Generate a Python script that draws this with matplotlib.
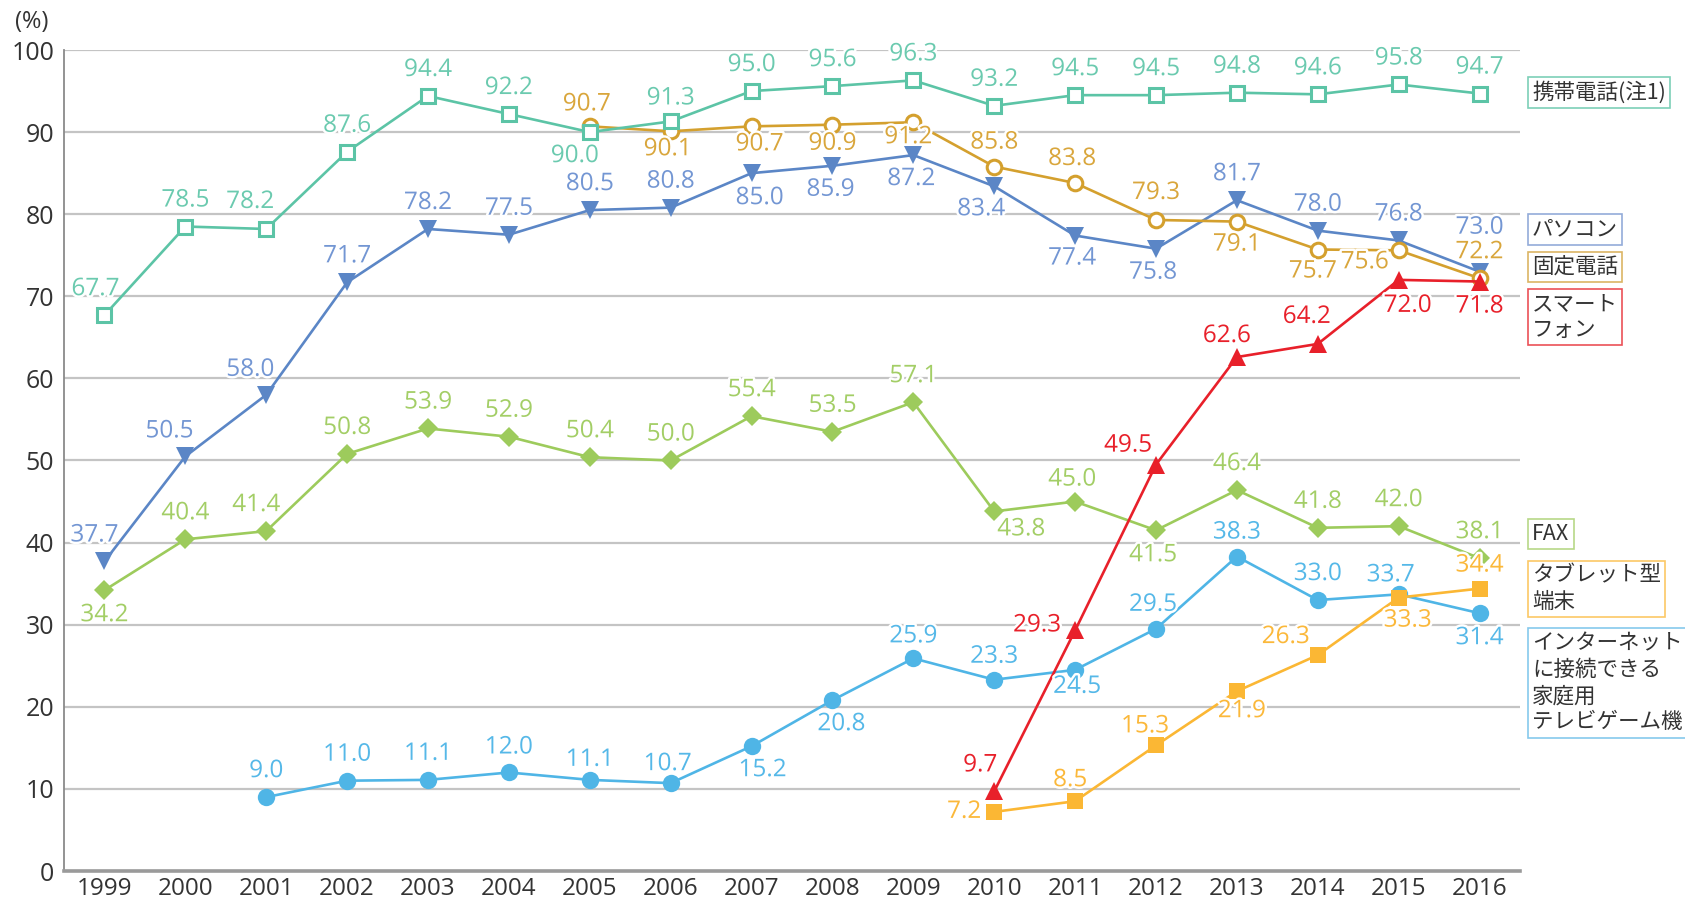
import matplotlib
matplotlib.use("Agg")
import matplotlib.pyplot as plt
import matplotlib.patheffects as pe

# ---------------- data ----------------
years = list(range(1999, 2017))
year_labels = [str(y) for y in years]

mobile = [67.7, 78.5, 78.2, 87.6, 94.4, 92.2, 90.0, 91.3, 95.0, 95.6, 96.3, 93.2, 94.5, 94.5, 94.8, 94.6, 95.8, 94.7]
mobile_years = years

pc = [37.7, 50.5, 58.0, 71.7, 78.2, 77.5, 80.5, 80.8, 85.0, 85.9, 87.2, 83.4, 77.4, 75.8, 81.7, 78.0, 76.8, 73.0]
pc_years = years

landline = [90.7, 90.1, 90.7, 90.9, 91.2, 85.8, 83.8, 79.3, 79.1, 75.7, 75.6, 72.2]
landline_years = list(range(2005, 2017))

smartphone = [9.7, 29.3, 49.5, 62.6, 64.2, 72.0, 71.8]
smartphone_years = list(range(2010, 2017))

fax = [34.2, 40.4, 41.4, 50.8, 53.9, 52.9, 50.4, 50.0, 55.4, 53.5, 57.1, 43.8, 45.0, 41.5, 46.4, 41.8, 42.0, 38.1]
fax_years = years

tablet = [7.2, 8.5, 15.3, 21.9, 26.3, 33.3, 34.4]
tablet_years = list(range(2010, 2017))

game = [9.0, 11.0, 11.1, 12.0, 11.1, 10.7, 15.2, 20.8, 25.9, 23.3, 24.5, 29.5, 38.3, 33.0, 33.7, 31.4]
game_years = list(range(2001, 2017))

y_ticks = list(range(0, 101, 10))

names = {
    "mobile": "携帯電話(注1)",
    "pc": "パソコン",
    "landline": "固定電話",
    "smartphone": "スマート\nフォン",
    "fax": "FAX",
    "tablet": "タブレット型\n端末",
    "game": "インターネット\nに接続できる\n家庭用\nテレビゲーム機",
}

# ---------------- label placement (pixel offsets) ----------------
U = (0, 26)
mobile_off = [(-9, 26), U, (-16, 27), U, U, U, (-15, -24), (0, 23), U, U, U, U, U, U, U, U, U, U]
pc_off = [(-10, 26), (-16, 25), (-16, 25), U, U, U, U, U, (8, -25), (-2, -24), (-2, -24), (-13, -23),
          (-3, -23), (-3, -24), U, U, U, (0, 44)]
landline_off = [(-3, 22), (-3, -18), (8, -18), (0, -19), (-5, -15), (0, 24), (-3, 24), (0, 27),
                (0, -23), (-5, -22), (-34, -12), (0, 26)]
smartphone_off = [(-14, 26), (-38, 5), (-28, 19), (-10, 21), (-11, 27), (9, -26), (0, -25)]
fax_off = [(0, -25), U, (-10, 26), U, U, U, U, U, U, U, U, (27, -18), (-3, 22), (-3, -25), U, U, U, U]
tablet_off = [(-30, 0), (-5, 21), (-11, 19), (5, -20), (-32, 18), (9, -23), (0, 23)]
game_off = [U, U, U, (0, 25), (0, 20), (-3, 19), (11, -24), (9, -24), (0, 22), (0, 23), (2, -17),
            (-3, 24), (0, 24), U, (-8, 19), (0, -25)]

# ---------------- styling ----------------
W, H = 1685, 905
NUM_FONT = ["Open Sans", "DejaVu Sans"]
JP_FONT = ["Noto Sans CJK JP", "DejaVu Sans"]
plt.rcParams["font.family"] = NUM_FONT

fig = plt.figure(figsize=(W / 100, H / 100), dpi=100)
ax = fig.add_axes([64 / W, 1 - 871 / H, (1520 - 64) / W, (871 - 50) / H])

ax.set_xlim(1998.5, 2016.5)
ax.set_ylim(0, 100)
ax.set_xticks(years)
ax.set_xticklabels(year_labels)
ax.set_yticks(y_ticks)
ax.tick_params(axis="both", length=0, labelsize=18, colors="#333333")
ax.tick_params(axis="y", pad=7)
ax.tick_params(axis="x", pad=4, labelsize=17.5)
ax.yaxis.grid(True, color="#c4c4c4", linewidth=1.6)
ax.set_axisbelow(True)
for s in ["top", "right"]:
    ax.spines[s].set_visible(False)
ax.spines["left"].set_color("#8a8a8a")
ax.spines["left"].set_linewidth(1.3)
ax.spines["bottom"].set_color("#9a9a9a")
ax.spines["bottom"].set_linewidth(2.6)

fig.text(32 / W, 1 - 22 / H, "(%)", fontsize=17, color="#333333", ha="center", va="center")

halo = [pe.withStroke(linewidth=3.5, foreground="white")]

series = [
    # key, xs, ys, offsets, line color, label color, marker, ms, face, mew, z
    ("game", game_years, game, game_off, "#4fb5e6", "#55b8e8", "o", 12.5, None, 0, 3),
    ("fax", fax_years, fax, fax_off, "#9dcb5c", "#a3ce66", "D", 10.5, None, 0, 3.2),
    ("tablet", tablet_years, tablet, tablet_off, "#fbb734", "#fbb83a", "s", 11.5, None, 0, 3.4),
    ("pc", pc_years, pc, pc_off, "#5b86c6", "#7396d3", "v", 13, None, 0, 3.6),
    ("landline", landline_years, landline, landline_off, "#d4a02e", "#d9a63c", "o", 10.5, "white", 2.2, 3.8),
    ("mobile", mobile_years, mobile, mobile_off, "#5cc4a6", "#6bcaaf", "s", 10.5, "white", 2.2, 4.0),
    ("smartphone", smartphone_years, smartphone, smartphone_off, "#e8202a", "#e8202a", "^", 13, None, 0, 4.2),
]

for key, xs, ys, offs, col, lcol, mk, ms, face, mew, z in series:
    ax.plot(xs, ys, color=col, linewidth=1.9, marker=mk, markersize=ms,
            markerfacecolor=face if face else col, markeredgecolor=col,
            markeredgewidth=mew, zorder=z, clip_on=False)
    for x, y, (dx, dy) in zip(xs, ys, offs):
        ax.annotate(f"{y:.1f}", (x, y), xytext=(dx, dy), textcoords="offset pixels",
                    ha="center", va="center", fontsize=17.5, color=lcol,
                    path_effects=halo, zorder=10, annotation_clip=False)

# ---------------- legend boxes ----------------
boxes = [
    ("mobile", 92.5, "#7dd0b8"),
    ("pc", 229.5, "#93acd9"),
    ("landline", 267, "#dcb565"),
    ("smartphone", 317, "#eb5158"),
    ("fax", 534, "#b7d887"),
    ("tablet", 589, "#fcc866"),
    ("game", 683, "#86c9ec"),
]
for key, yc, ec in boxes:
    fig.text(1532 / W, 1 - yc / H, names[key], family=JP_FONT, fontsize=15.5,
             color="#333333", ha="left", va="center", linespacing=1.25,
             bbox=dict(boxstyle="square,pad=0.2", facecolor="white", edgecolor=ec, linewidth=1.2))

fig.savefig("out.png", dpi=100)
